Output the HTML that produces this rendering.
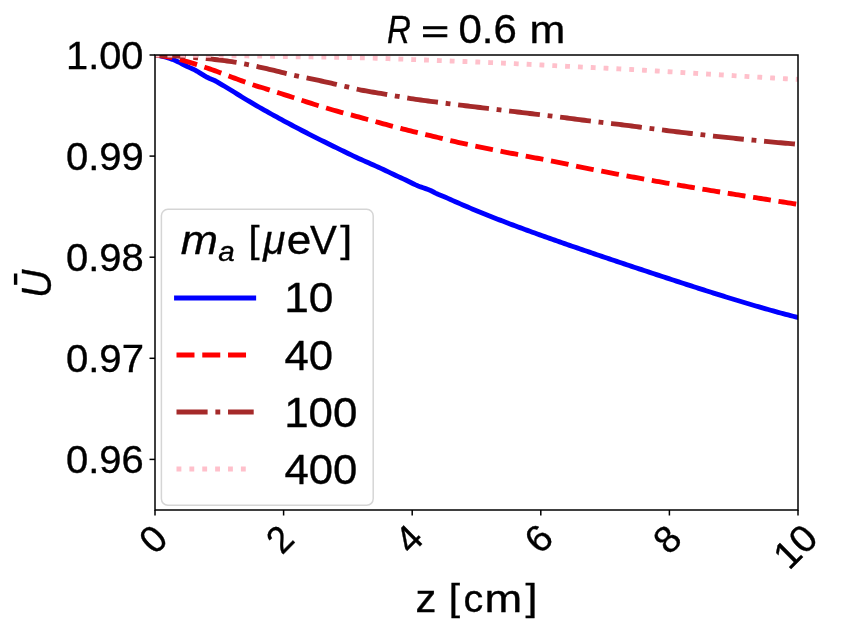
<!DOCTYPE html>
<html lang="en"><head><meta charset="utf-8"><title>R = 0.6 m</title>
<style>html,body{margin:0;padding:0;background:#fff;}body{width:843px;height:639px;overflow:hidden;}svg{display:block;font-family:"Liberation Sans",sans-serif;font-kerning:none;will-change:transform;}text{fill:#000;white-space:pre;stroke:#000;stroke-width:0.35px;}</style></head><body>
<svg width="843" height="639" viewBox="0 0 843 639">
<rect x="0" y="0" width="843" height="639" fill="#ffffff"/>
<defs><clipPath id="ax"><rect x="155.0" y="55.0" width="643.00" height="455.00"/></clipPath></defs>
<g clip-path="url(#ax)" fill="none" stroke-linejoin="round">
<path d="M155.00 55.20 L157.48 55.44 L159.97 55.79 L162.45 56.32 L164.93 56.98 L167.41 57.68 L169.90 58.47 L172.38 59.35 L174.86 60.34 L177.34 61.46 L179.83 62.69 L182.31 63.98 L184.79 65.26 L187.27 66.49 L189.76 67.61 L192.24 68.69 L194.72 69.86 L197.20 71.27 L199.69 72.81 L202.17 74.35 L204.65 75.90 L207.14 77.31 L209.62 78.45 L212.10 79.44 L214.58 80.50 L217.07 81.83 L219.55 83.33 L222.03 84.80 L224.51 86.28 L227.00 87.76 L229.48 89.26 L231.96 90.77 L234.44 92.30 L236.93 93.85 L239.41 95.41 L241.89 96.96 L244.37 98.49 L246.86 99.99 L249.34 101.46 L251.82 102.92 L254.31 104.37 L256.79 105.81 L259.27 107.24 L261.75 108.66 L264.24 110.07 L266.72 111.47 L269.20 112.86 L271.68 114.25 L274.17 115.62 L276.65 116.98 L279.13 118.34 L281.61 119.69 L284.10 121.03 L286.58 122.37 L289.06 123.70 L291.54 125.02 L294.03 126.33 L296.51 127.63 L298.99 128.93 L301.47 130.22 L303.96 131.50 L306.44 132.78 L308.92 134.05 L311.41 135.31 L313.89 136.57 L316.37 137.83 L318.85 139.08 L321.34 140.32 L323.82 141.55 L326.30 142.79 L328.78 144.01 L331.27 145.23 L333.75 146.45 L336.23 147.67 L338.71 148.88 L341.20 150.09 L343.68 151.29 L346.16 152.49 L348.64 153.70 L351.13 154.91 L353.61 156.10 L356.09 157.28 L358.58 158.42 L361.06 159.54 L363.54 160.63 L366.02 161.71 L368.51 162.81 L370.99 163.91 L373.47 165.02 L375.95 166.13 L378.44 167.26 L380.92 168.39 L383.40 169.54 L385.88 170.72 L388.37 171.92 L390.85 173.12 L393.33 174.31 L395.81 175.48 L398.30 176.63 L400.78 177.77 L403.26 178.91 L405.75 180.06 L408.23 181.23 L410.71 182.46 L413.19 183.71 L415.68 184.90 L418.16 185.99 L420.64 186.92 L423.12 187.75 L425.61 188.63 L428.09 189.54 L430.57 190.54 L433.05 191.76 L435.54 193.08 L438.02 194.23 L440.50 195.26 L442.98 196.26 L445.47 197.30 L447.95 198.39 L450.43 199.49 L452.92 200.61 L455.40 201.71 L457.88 202.81 L460.36 203.88 L462.85 204.96 L465.33 206.02 L467.81 207.08 L470.29 208.12 L472.78 209.16 L475.26 210.19 L477.74 211.22 L480.22 212.23 L482.71 213.24 L485.19 214.25 L487.67 215.24 L490.15 216.23 L492.64 217.21 L495.12 218.19 L497.60 219.16 L500.08 220.12 L502.57 221.07 L505.05 222.03 L507.53 222.97 L510.02 223.92 L512.50 224.85 L514.98 225.79 L517.46 226.72 L519.95 227.64 L522.43 228.56 L524.91 229.47 L527.39 230.38 L529.88 231.29 L532.36 232.19 L534.84 233.09 L537.32 233.98 L539.81 234.87 L542.29 235.76 L544.77 236.65 L547.25 237.53 L549.74 238.41 L552.22 239.29 L554.70 240.16 L557.19 241.03 L559.67 241.90 L562.15 242.76 L564.63 243.63 L567.12 244.49 L569.60 245.35 L572.08 246.21 L574.56 247.07 L577.05 247.92 L579.53 248.77 L582.01 249.62 L584.49 250.47 L586.98 251.32 L589.46 252.17 L591.94 253.01 L594.42 253.85 L596.91 254.70 L599.39 255.54 L601.87 256.37 L604.36 257.21 L606.84 258.05 L609.32 258.88 L611.80 259.72 L614.29 260.55 L616.77 261.39 L619.25 262.22 L621.73 263.05 L624.22 263.88 L626.70 264.71 L629.18 265.54 L631.66 266.36 L634.15 267.19 L636.63 268.01 L639.11 268.84 L641.59 269.66 L644.08 270.48 L646.56 271.31 L649.04 272.13 L651.53 272.95 L654.01 273.77 L656.49 274.59 L658.97 275.41 L661.46 276.22 L663.94 277.04 L666.42 277.86 L668.90 278.67 L671.39 279.48 L673.87 280.29 L676.35 281.10 L678.83 281.91 L681.32 282.72 L683.80 283.52 L686.28 284.33 L688.76 285.13 L691.25 285.93 L693.73 286.73 L696.21 287.53 L698.69 288.33 L701.18 289.12 L703.66 289.92 L706.14 290.71 L708.63 291.50 L711.11 292.29 L713.59 293.07 L716.07 293.86 L718.56 294.64 L721.04 295.41 L723.52 296.19 L726.00 296.96 L728.49 297.73 L730.97 298.49 L733.45 299.25 L735.93 300.01 L738.42 300.77 L740.90 301.52 L743.38 302.27 L745.86 303.02 L748.35 303.76 L750.83 304.50 L753.31 305.23 L755.80 305.96 L758.28 306.68 L760.76 307.40 L763.24 308.11 L765.73 308.82 L768.21 309.52 L770.69 310.22 L773.17 310.92 L775.66 311.61 L778.14 312.29 L780.62 312.97 L783.10 313.64 L785.59 314.30 L788.07 314.96 L790.55 315.61 L793.03 316.25 L795.52 316.89 L798.00 317.52" stroke="#0000ff" stroke-width="4.86" stroke-linecap="square"/>
<path d="M155.00 55.20 L157.48 55.42 L159.97 55.69 L162.45 56.01 L164.93 56.37 L167.41 56.76 L169.90 57.18 L172.38 57.66 L174.86 58.22 L177.34 58.85 L179.83 59.53 L182.31 60.24 L184.79 60.96 L187.27 61.69 L189.76 62.41 L192.24 63.16 L194.72 63.93 L197.20 64.72 L199.69 65.53 L202.17 66.36 L204.65 67.19 L207.14 68.04 L209.62 68.90 L212.10 69.76 L214.58 70.64 L217.07 71.53 L219.55 72.45 L222.03 73.39 L224.51 74.33 L227.00 75.28 L229.48 76.23 L231.96 77.18 L234.44 78.12 L236.93 79.04 L239.41 79.95 L241.89 80.87 L244.37 81.80 L246.86 82.71 L249.34 83.61 L251.82 84.47 L254.31 85.31 L256.79 86.09 L259.27 86.82 L261.75 87.54 L264.24 88.30 L266.72 89.07 L269.20 89.84 L271.68 90.62 L274.17 91.40 L276.65 92.19 L279.13 92.98 L281.61 93.77 L284.10 94.56 L286.58 95.36 L289.06 96.16 L291.54 96.97 L294.03 97.79 L296.51 98.61 L298.99 99.43 L301.47 100.25 L303.96 101.06 L306.44 101.87 L308.92 102.66 L311.41 103.44 L313.89 104.22 L316.37 105.00 L318.85 105.77 L321.34 106.53 L323.82 107.29 L326.30 108.04 L328.78 108.79 L331.27 109.52 L333.75 110.24 L336.23 110.95 L338.71 111.64 L341.20 112.32 L343.68 112.99 L346.16 113.66 L348.64 114.31 L351.13 114.97 L353.61 115.62 L356.09 116.28 L358.58 116.94 L361.06 117.62 L363.54 118.30 L366.02 118.98 L368.51 119.67 L370.99 120.36 L373.47 121.06 L375.95 121.75 L378.44 122.44 L380.92 123.12 L383.40 123.80 L385.88 124.47 L388.37 125.13 L390.85 125.79 L393.33 126.45 L395.81 127.10 L398.30 127.75 L400.78 128.40 L403.26 129.04 L405.75 129.67 L408.23 130.30 L410.71 130.93 L413.19 131.54 L415.68 132.15 L418.16 132.75 L420.64 133.35 L423.12 133.94 L425.61 134.53 L428.09 135.12 L430.57 135.71 L433.05 136.30 L435.54 136.89 L438.02 137.49 L440.50 138.09 L442.98 138.70 L445.47 139.31 L447.95 139.92 L450.43 140.52 L452.92 141.12 L455.40 141.71 L457.88 142.29 L460.36 142.86 L462.85 143.41 L465.33 143.95 L467.81 144.48 L470.29 145.00 L472.78 145.51 L475.26 146.02 L477.74 146.52 L480.22 147.03 L482.71 147.53 L485.19 148.03 L487.67 148.54 L490.15 149.04 L492.64 149.55 L495.12 150.05 L497.60 150.55 L500.08 151.04 L502.57 151.54 L505.05 152.03 L507.53 152.52 L510.02 153.01 L512.50 153.49 L514.98 153.98 L517.46 154.45 L519.95 154.93 L522.43 155.41 L524.91 155.88 L527.39 156.36 L529.88 156.83 L532.36 157.30 L534.84 157.78 L537.32 158.25 L539.81 158.72 L542.29 159.19 L544.77 159.66 L547.25 160.12 L549.74 160.59 L552.22 161.06 L554.70 161.54 L557.19 162.03 L559.67 162.53 L562.15 163.04 L564.63 163.57 L567.12 164.12 L569.60 164.68 L572.08 165.24 L574.56 165.78 L577.05 166.31 L579.53 166.82 L582.01 167.33 L584.49 167.83 L586.98 168.32 L589.46 168.82 L591.94 169.30 L594.42 169.79 L596.91 170.27 L599.39 170.75 L601.87 171.22 L604.36 171.69 L606.84 172.16 L609.32 172.63 L611.80 173.09 L614.29 173.56 L616.77 174.02 L619.25 174.49 L621.73 174.95 L624.22 175.41 L626.70 175.87 L629.18 176.33 L631.66 176.79 L634.15 177.25 L636.63 177.70 L639.11 178.16 L641.59 178.61 L644.08 179.06 L646.56 179.51 L649.04 179.95 L651.53 180.40 L654.01 180.84 L656.49 181.28 L658.97 181.72 L661.46 182.16 L663.94 182.60 L666.42 183.03 L668.90 183.46 L671.39 183.89 L673.87 184.32 L676.35 184.75 L678.83 185.17 L681.32 185.59 L683.80 186.01 L686.28 186.43 L688.76 186.85 L691.25 187.26 L693.73 187.67 L696.21 188.08 L698.69 188.49 L701.18 188.90 L703.66 189.31 L706.14 189.72 L708.63 190.12 L711.11 190.53 L713.59 190.93 L716.07 191.34 L718.56 191.74 L721.04 192.14 L723.52 192.55 L726.00 192.95 L728.49 193.35 L730.97 193.75 L733.45 194.15 L735.93 194.54 L738.42 194.94 L740.90 195.33 L743.38 195.73 L745.86 196.12 L748.35 196.52 L750.83 196.91 L753.31 197.30 L755.80 197.69 L758.28 198.08 L760.76 198.48 L763.24 198.87 L765.73 199.26 L768.21 199.65 L770.69 200.05 L773.17 200.44 L775.66 200.83 L778.14 201.23 L780.62 201.62 L783.10 202.02 L785.59 202.41 L788.07 202.81 L790.55 203.21 L793.03 203.60 L795.52 204.00 L798.00 204.40" stroke="#ff0000" stroke-width="4.86" stroke-dasharray="17.927 7.753" stroke-dashoffset="0.4"/>
<path d="M155.00 55.10 L157.48 55.18 L159.97 55.27 L162.45 55.36 L164.93 55.47 L167.41 55.59 L169.90 55.72 L172.38 55.85 L174.86 55.99 L177.34 56.14 L179.83 56.29 L182.31 56.45 L184.79 56.63 L187.27 56.82 L189.76 57.03 L192.24 57.25 L194.72 57.48 L197.20 57.71 L199.69 57.95 L202.17 58.20 L204.65 58.44 L207.14 58.69 L209.62 58.94 L212.10 59.20 L214.58 59.46 L217.07 59.74 L219.55 60.02 L222.03 60.32 L224.51 60.64 L227.00 60.97 L229.48 61.33 L231.96 61.71 L234.44 62.10 L236.93 62.51 L239.41 62.95 L241.89 63.40 L244.37 63.88 L246.86 64.37 L249.34 64.88 L251.82 65.40 L254.31 65.94 L256.79 66.48 L259.27 67.04 L261.75 67.60 L264.24 68.17 L266.72 68.74 L269.20 69.32 L271.68 69.89 L274.17 70.48 L276.65 71.08 L279.13 71.69 L281.61 72.30 L284.10 72.91 L286.58 73.52 L289.06 74.12 L291.54 74.71 L294.03 75.28 L296.51 75.83 L298.99 76.37 L301.47 76.90 L303.96 77.42 L306.44 77.93 L308.92 78.43 L311.41 78.94 L313.89 79.45 L316.37 79.96 L318.85 80.48 L321.34 81.00 L323.82 81.55 L326.30 82.10 L328.78 82.66 L331.27 83.22 L333.75 83.79 L336.23 84.36 L338.71 84.94 L341.20 85.51 L343.68 86.08 L346.16 86.65 L348.64 87.22 L351.13 87.79 L353.61 88.38 L356.09 88.95 L358.58 89.50 L361.06 90.01 L363.54 90.49 L366.02 90.95 L368.51 91.39 L370.99 91.81 L373.47 92.23 L375.95 92.63 L378.44 93.04 L380.92 93.45 L383.40 93.86 L385.88 94.28 L388.37 94.71 L390.85 95.15 L393.33 95.59 L395.81 96.04 L398.30 96.48 L400.78 96.91 L403.26 97.34 L405.75 97.76 L408.23 98.17 L410.71 98.56 L413.19 98.93 L415.68 99.29 L418.16 99.64 L420.64 99.98 L423.12 100.31 L425.61 100.64 L428.09 100.97 L430.57 101.29 L433.05 101.61 L435.54 101.94 L438.02 102.27 L440.50 102.59 L442.98 102.91 L445.47 103.24 L447.95 103.55 L450.43 103.87 L452.92 104.19 L455.40 104.50 L457.88 104.81 L460.36 105.12 L462.85 105.43 L465.33 105.73 L467.81 106.03 L470.29 106.33 L472.78 106.63 L475.26 106.92 L477.74 107.22 L480.22 107.51 L482.71 107.81 L485.19 108.10 L487.67 108.40 L490.15 108.70 L492.64 109.00 L495.12 109.29 L497.60 109.59 L500.08 109.89 L502.57 110.19 L505.05 110.49 L507.53 110.78 L510.02 111.08 L512.50 111.38 L514.98 111.68 L517.46 111.98 L519.95 112.27 L522.43 112.57 L524.91 112.87 L527.39 113.17 L529.88 113.47 L532.36 113.76 L534.84 114.06 L537.32 114.36 L539.81 114.65 L542.29 114.94 L544.77 115.24 L547.25 115.53 L549.74 115.82 L552.22 116.11 L554.70 116.41 L557.19 116.72 L559.67 117.03 L562.15 117.35 L564.63 117.69 L567.12 118.03 L569.60 118.38 L572.08 118.71 L574.56 119.03 L577.05 119.35 L579.53 119.66 L582.01 119.97 L584.49 120.28 L586.98 120.58 L589.46 120.88 L591.94 121.18 L594.42 121.48 L596.91 121.77 L599.39 122.07 L601.87 122.36 L604.36 122.66 L606.84 122.96 L609.32 123.25 L611.80 123.55 L614.29 123.85 L616.77 124.15 L619.25 124.46 L621.73 124.77 L624.22 125.08 L626.70 125.39 L629.18 125.71 L631.66 126.03 L634.15 126.35 L636.63 126.67 L639.11 126.99 L641.59 127.32 L644.08 127.64 L646.56 127.96 L649.04 128.29 L651.53 128.61 L654.01 128.93 L656.49 129.25 L658.97 129.57 L661.46 129.89 L663.94 130.20 L666.42 130.51 L668.90 130.82 L671.39 131.13 L673.87 131.43 L676.35 131.73 L678.83 132.03 L681.32 132.33 L683.80 132.63 L686.28 132.93 L688.76 133.22 L691.25 133.52 L693.73 133.81 L696.21 134.10 L698.69 134.39 L701.18 134.68 L703.66 134.96 L706.14 135.25 L708.63 135.53 L711.11 135.81 L713.59 136.09 L716.07 136.36 L718.56 136.63 L721.04 136.90 L723.52 137.16 L726.00 137.42 L728.49 137.69 L730.97 137.95 L733.45 138.20 L735.93 138.46 L738.42 138.71 L740.90 138.96 L743.38 139.21 L745.86 139.46 L748.35 139.71 L750.83 139.96 L753.31 140.20 L755.80 140.44 L758.28 140.68 L760.76 140.92 L763.24 141.16 L765.73 141.40 L768.21 141.63 L770.69 141.86 L773.17 142.10 L775.66 142.33 L778.14 142.56 L780.62 142.78 L783.10 143.01 L785.59 143.23 L788.07 143.45 L790.55 143.67 L793.03 143.88 L795.52 144.09 L798.00 144.30" stroke="#a52a2a" stroke-width="4.86" stroke-dasharray="31.001 7.753 4.843 7.753" stroke-dashoffset="0.4"/>
<path d="M155.00 55.00 L157.48 55.01 L159.97 55.03 L162.45 55.04 L164.93 55.06 L167.41 55.07 L169.90 55.09 L172.38 55.11 L174.86 55.13 L177.34 55.14 L179.83 55.16 L182.31 55.18 L184.79 55.21 L187.27 55.23 L189.76 55.25 L192.24 55.27 L194.72 55.29 L197.20 55.32 L199.69 55.34 L202.17 55.37 L204.65 55.39 L207.14 55.42 L209.62 55.44 L212.10 55.47 L214.58 55.50 L217.07 55.52 L219.55 55.55 L222.03 55.58 L224.51 55.61 L227.00 55.65 L229.48 55.68 L231.96 55.72 L234.44 55.75 L236.93 55.79 L239.41 55.83 L241.89 55.86 L244.37 55.90 L246.86 55.94 L249.34 55.98 L251.82 56.02 L254.31 56.06 L256.79 56.11 L259.27 56.15 L261.75 56.19 L264.24 56.23 L266.72 56.27 L269.20 56.31 L271.68 56.35 L274.17 56.39 L276.65 56.43 L279.13 56.46 L281.61 56.50 L284.10 56.54 L286.58 56.57 L289.06 56.61 L291.54 56.65 L294.03 56.68 L296.51 56.72 L298.99 56.75 L301.47 56.79 L303.96 56.82 L306.44 56.86 L308.92 56.89 L311.41 56.93 L313.89 56.96 L316.37 57.00 L318.85 57.04 L321.34 57.08 L323.82 57.11 L326.30 57.15 L328.78 57.19 L331.27 57.23 L333.75 57.27 L336.23 57.31 L338.71 57.36 L341.20 57.40 L343.68 57.45 L346.16 57.49 L348.64 57.54 L351.13 57.59 L353.61 57.64 L356.09 57.69 L358.58 57.75 L361.06 57.80 L363.54 57.86 L366.02 57.92 L368.51 57.99 L370.99 58.06 L373.47 58.13 L375.95 58.21 L378.44 58.29 L380.92 58.37 L383.40 58.45 L385.88 58.54 L388.37 58.63 L390.85 58.72 L393.33 58.81 L395.81 58.90 L398.30 59.00 L400.78 59.09 L403.26 59.19 L405.75 59.28 L408.23 59.38 L410.71 59.47 L413.19 59.57 L415.68 59.66 L418.16 59.76 L420.64 59.85 L423.12 59.94 L425.61 60.03 L428.09 60.12 L430.57 60.22 L433.05 60.31 L435.54 60.40 L438.02 60.50 L440.50 60.59 L442.98 60.68 L445.47 60.78 L447.95 60.87 L450.43 60.97 L452.92 61.06 L455.40 61.16 L457.88 61.26 L460.36 61.35 L462.85 61.45 L465.33 61.55 L467.81 61.65 L470.29 61.75 L472.78 61.85 L475.26 61.95 L477.74 62.05 L480.22 62.16 L482.71 62.26 L485.19 62.36 L487.67 62.47 L490.15 62.57 L492.64 62.68 L495.12 62.79 L497.60 62.89 L500.08 63.00 L502.57 63.11 L505.05 63.23 L507.53 63.34 L510.02 63.45 L512.50 63.57 L514.98 63.69 L517.46 63.81 L519.95 63.93 L522.43 64.05 L524.91 64.17 L527.39 64.29 L529.88 64.42 L532.36 64.54 L534.84 64.67 L537.32 64.79 L539.81 64.92 L542.29 65.05 L544.77 65.17 L547.25 65.30 L549.74 65.43 L552.22 65.56 L554.70 65.68 L557.19 65.81 L559.67 65.94 L562.15 66.06 L564.63 66.19 L567.12 66.32 L569.60 66.44 L572.08 66.57 L574.56 66.69 L577.05 66.82 L579.53 66.94 L582.01 67.06 L584.49 67.18 L586.98 67.30 L589.46 67.42 L591.94 67.53 L594.42 67.65 L596.91 67.77 L599.39 67.89 L601.87 68.00 L604.36 68.12 L606.84 68.24 L609.32 68.36 L611.80 68.48 L614.29 68.60 L616.77 68.73 L619.25 68.86 L621.73 68.99 L624.22 69.12 L626.70 69.25 L629.18 69.39 L631.66 69.52 L634.15 69.66 L636.63 69.80 L639.11 69.94 L641.59 70.08 L644.08 70.23 L646.56 70.37 L649.04 70.52 L651.53 70.66 L654.01 70.81 L656.49 70.96 L658.97 71.11 L661.46 71.26 L663.94 71.41 L666.42 71.56 L668.90 71.71 L671.39 71.86 L673.87 72.01 L676.35 72.16 L678.83 72.31 L681.32 72.46 L683.80 72.62 L686.28 72.77 L688.76 72.92 L691.25 73.07 L693.73 73.22 L696.21 73.37 L698.69 73.52 L701.18 73.67 L703.66 73.82 L706.14 73.97 L708.63 74.12 L711.11 74.28 L713.59 74.43 L716.07 74.58 L718.56 74.74 L721.04 74.89 L723.52 75.04 L726.00 75.20 L728.49 75.35 L730.97 75.50 L733.45 75.66 L735.93 75.81 L738.42 75.96 L740.90 76.11 L743.38 76.26 L745.86 76.41 L748.35 76.56 L750.83 76.70 L753.31 76.85 L755.80 76.99 L758.28 77.14 L760.76 77.28 L763.24 77.43 L765.73 77.57 L768.21 77.72 L770.69 77.86 L773.17 78.00 L775.66 78.14 L778.14 78.29 L780.62 78.43 L783.10 78.57 L785.59 78.71 L788.07 78.85 L790.55 78.99 L793.03 79.12 L795.52 79.26 L798.00 79.40" stroke="#ffc0cb" stroke-width="4.86" stroke-dasharray="4.843 7.992" stroke-dashoffset="0.4"/>
</g>
<rect x="161.4" y="209.3" width="211.80" height="296.00" rx="6.5" ry="6.5" fill="#ffffff" fill-opacity="0.8" stroke="#cccccc" stroke-opacity="0.82" stroke-width="1.5"/>
<g fill="none">
<path d="M176.5 298.0 L253.7 298.0" stroke="#0000ff" stroke-width="4.86" stroke-linecap="square"/>
<path d="M176.5 355.0 L253.7 355.0" stroke="#ff0000" stroke-width="4.86" stroke-dasharray="17.99 7.78"/>
<path d="M176.5 412.0 L253.7 412.0" stroke="#a52a2a" stroke-width="4.86" stroke-dasharray="31.11 7.78 4.86 7.78"/>
<path d="M176.5 469.0 L253.7 469.0" stroke="#ffc0cb" stroke-width="4.86" stroke-dasharray="4.86 8.02"/>
</g>
<g stroke="#000000" stroke-width="1.5" fill="none" stroke-linecap="butt">
<rect x="155.0" y="55.0" width="643.00" height="455.00"/>
<path d="M149.5 55.00 L155.0 55.00"/>
<path d="M149.5 156.10 L155.0 156.10"/>
<path d="M149.5 257.20 L155.0 257.20"/>
<path d="M149.5 358.30 L155.0 358.30"/>
<path d="M149.5 459.40 L155.0 459.40"/>
<path d="M155.00 510.0 L155.00 515.5"/>
<path d="M283.60 510.0 L283.60 515.5"/>
<path d="M412.20 510.0 L412.20 515.5"/>
<path d="M540.80 510.0 L540.80 515.5"/>
<path d="M669.40 510.0 L669.40 515.5"/>
<path d="M798.00 510.0 L798.00 515.5"/>
</g>
<text transform="translate(66.07 68.70) scale(1.0470 1)" font-size="38.00">1.00</text>
<text transform="translate(65.94 169.80) scale(1.0534 1)" font-size="38.00">0.99</text>
<text transform="translate(65.94 270.90) scale(1.0512 1)" font-size="38.00">0.98</text>
<text transform="translate(65.93 372.00) scale(1.0551 1)" font-size="38.00">0.97</text>
<text transform="translate(65.94 473.10) scale(1.0515 1)" font-size="38.00">0.96</text>
<text transform="translate(153.10 539.20) rotate(-45) scale(0.9877 1) translate(-10.57 13.08)" font-size="38.00">0</text>
<text transform="translate(279.80 538.90) rotate(-45) scale(0.9521 1) translate(-10.57 13.27)" font-size="38.00">2</text>
<text transform="translate(408.90 539.00) rotate(-45) scale(0.9872 1) translate(-10.45 13.07)" font-size="38.00">4</text>
<text transform="translate(538.70 538.40) rotate(-45) scale(1.0213 1) translate(-10.70 13.08)" font-size="38.00">6</text>
<text transform="translate(667.20 539.30) rotate(-45) scale(0.9983 1) translate(-10.57 13.08)" font-size="38.00">8</text>
<text transform="translate(795.70 545.90) rotate(-45) scale(1.0298 1) translate(-21.84 13.08)" font-size="38.00">10</text>
<g><text transform="translate(415.51 612.30) scale(1.0514 1)" font-size="39.70">z</text><text transform="translate(448.69 610.20) scale(1.1167 1)" font-size="36.50">[</text><text transform="translate(463.43 612.30) scale(0.9932 1)" font-size="39.70">c</text><text transform="translate(484.60 612.30) scale(1.1396 1)" font-size="39.70">m</text><text transform="translate(525.57 610.20) scale(1.1718 1)" font-size="36.50">]</text></g>
<g transform="translate(51 282.2) rotate(-90)"><text transform="translate(-15.73 0.00) scale(0.9131 1)" font-size="42.98" font-style="italic">U</text><rect x="-2.6" y="-37.1" width="11.3" height="3.4" fill="#000"/></g>
<g><text transform="translate(386.88 43.10) scale(0.8483 1)" font-size="38.90" font-style="italic">R</text><text transform="translate(421.27 41.50) scale(1.5555 1)" font-size="30.70" style="stroke-width:0.7px">=</text><text transform="translate(458.46 43.30) scale(1.0491 1)" font-size="40.00">0.6</text><text transform="translate(529.45 43.30) scale(1.1035 1)" font-size="38.93">m</text></g>
<g><text transform="translate(180.76 253.70) scale(1.1033 1)" font-size="40.49" font-style="italic">m</text><text transform="translate(218.23 261.10) scale(1.0454 1)" font-size="28.34" font-style="italic">a</text><text transform="translate(248.47 251.80) scale(1.0686 1)" font-size="37.20">[</text><text transform="translate(263.24 253.70) scale(0.9919 1)" font-size="40.49" font-style="italic">μ</text><text transform="translate(286.73 253.70) scale(1.0895 1)" font-size="40.49">e</text><text transform="translate(310.02 253.70) scale(0.9725 1)" font-size="41.40">V</text><text transform="translate(340.27 251.80) scale(1.1498 1)" font-size="37.20">]</text></g>
<text transform="translate(284.13 312.40) scale(1.0531 1)" font-size="42.00">10</text>
<text transform="translate(284.50 369.50) scale(1.0405 1)" font-size="42.00">40</text>
<text transform="translate(284.16 426.60) scale(1.0454 1)" font-size="42.00">100</text>
<text transform="translate(284.50 483.70) scale(1.0405 1)" font-size="42.00">400</text>
</svg></body></html>
